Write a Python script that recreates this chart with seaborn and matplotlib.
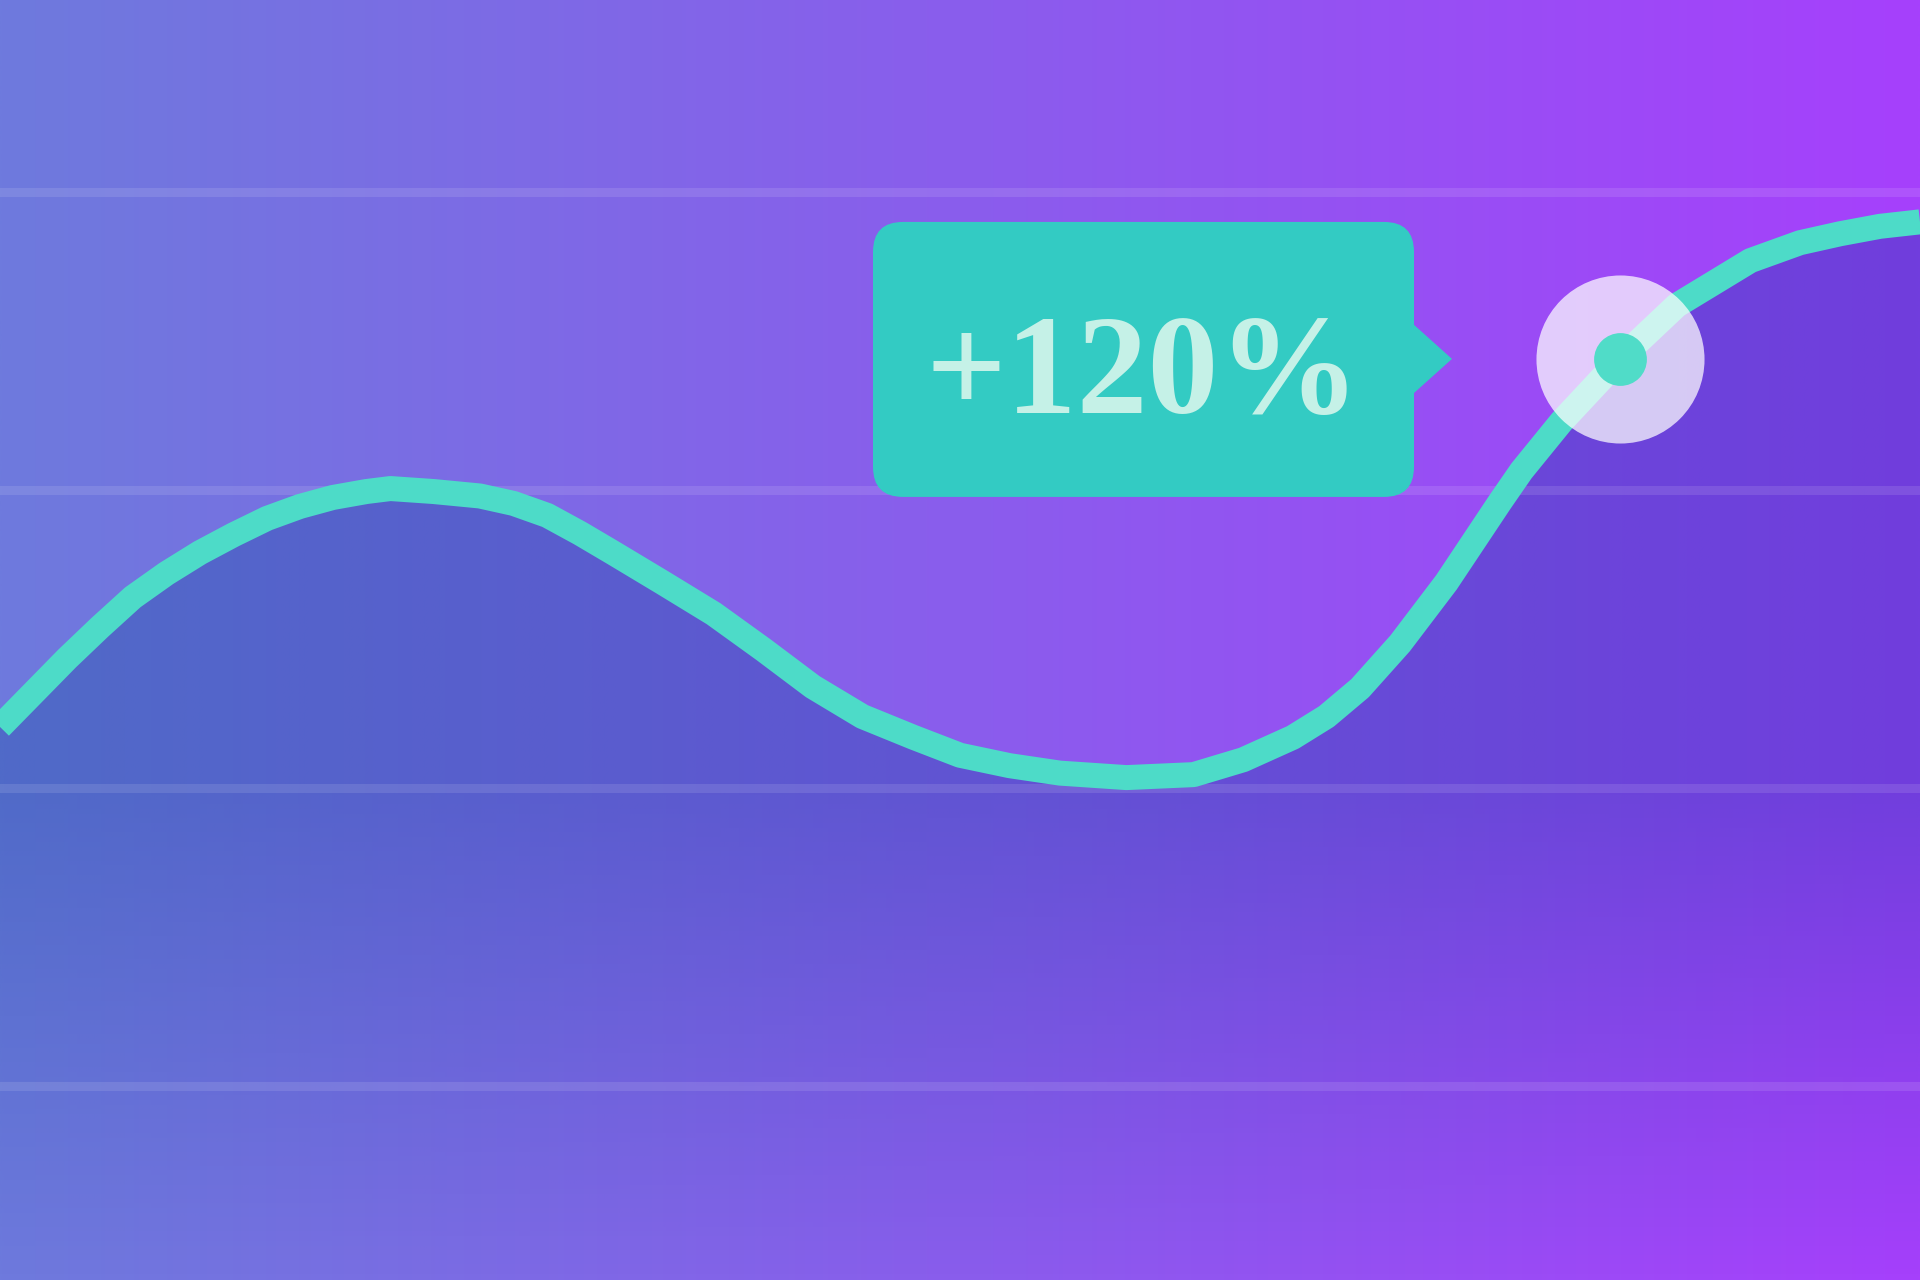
import numpy as np
import pandas as pd
import seaborn as sns
import matplotlib.pyplot as plt
import matplotlib.transforms as mtransforms
from matplotlib.patches import FancyBboxPatch, Polygon

# growth curve
months = [0, 0.21, 0.42, 0.625, 0.83, 1.04, 1.25, 1.46, 1.67, 1.875, 2.08, 2.29, 2.44, 2.71,
          3.0, 3.21, 3.42, 3.625, 3.83, 4.14, 4.46, 4.77, 5.08, 5.39, 5.71, 6.0, 6.31, 6.625,
          7.04, 7.46, 7.77, 8.08, 8.29, 8.5, 8.75, 9.04, 9.375, 9.51, 9.76, 10.125, 10.48,
          10.94, 11.25, 11.5, 11.75, 12.0]
values = [44.1, 46.4, 48.7, 50.8, 52.8, 54.4, 55.8, 57.0, 58.1, 58.9, 59.5, 59.9, 60.1, 59.9,
          59.6, 59.1, 58.3, 57.1, 55.8, 53.8, 51.7, 49.3, 46.8, 44.8, 43.4, 42.2, 41.5, 41.0,
          40.7, 40.9, 41.9, 43.4, 44.8, 46.7, 49.7, 53.8, 59.2, 61.3, 64.6, 68.8, 72.4,
          75.4, 76.6, 77.2, 77.7, 78.0]
grid_values = [20, 40, 60, 80]
highlight_month = 10.125
highlight_label = "+120%"

x_range = (0, 12)
y_range = (6.98, 92.89)

line_color = "#4ddbc8"
dot_color = "#50dcc8"
tip_color = "#33cbc3"
tip_text_color = "#c5f1e7"
bg_left = np.array([110, 122, 221]) / 255
bg_right = np.array([166, 64, 252]) / 255
fill_left = np.array([37, 85, 170]) / 255
fill_right = np.array([37, 59, 178]) / 255

df = pd.DataFrame({"month": months, "value": values})

sns.set_theme(style="white")
plt.rcParams["font.family"] = ["Liberation Serif", "DejaVu Serif"]

fig = plt.figure(figsize=(19.2, 12.8), dpi=100)
ax = fig.add_axes([0, 0, 1, 1])
ax.set_xlim(*x_range)
ax.set_ylim(*y_range)

# background gradient
t = np.linspace(0, 1, 512)[None, :, None]
bg = bg_left + (bg_right - bg_left) * t
ax.imshow(np.repeat(bg, 2, axis=0), extent=(*x_range, *y_range), aspect="auto",
          zorder=0, interpolation="bilinear")

# area under the curve: flat shade then fading out towards the bottom
rows = 400
ys = np.linspace(y_range[1], y_range[0], rows)
fade_start = 40.0
alpha = np.where(ys >= fade_start, 0.41,
                 0.41 * (ys - y_range[0]) / (fade_start - y_range[0]))
cols = fill_left + (fill_right - fill_left) * np.linspace(0, 1, 256)[None, :, None]
shade = np.zeros((rows, 256, 4))
shade[:, :, :3] = cols
shade[:, :, 3] = alpha[:, None]
area = ax.fill_between(df["month"], df["value"], y_range[0], color="none", linewidth=0)
im = ax.imshow(shade, extent=(*x_range, *y_range), aspect="auto", zorder=1,
               interpolation="bilinear")
im.set_clip_path(area.get_paths()[0], transform=ax.transData)

# grid
ax.set_yticks(grid_values)
ax.set_xticks([])
ax.set_axisbelow("line")
ax.grid(axis="y", color="white", alpha=0.11, linewidth=6.5)
ax.tick_params(length=0, labelleft=False, labelbottom=False)
for s in ax.spines.values():
    s.set_visible(False)

sns.lineplot(data=df, x="month", y="value", ax=ax, color=line_color, linewidth=18,
             solid_joinstyle="round", solid_capstyle="butt", zorder=3)
ax.set_xlabel("")
ax.set_ylabel("")

# highlighted point
hl = df[df["month"] == highlight_month].iloc[0]
ax.scatter([hl["month"]], [hl["value"]], s=14640, color="white", alpha=0.72,
           linewidths=0, zorder=4)
ax.scatter([hl["month"]], [hl["value"]], s=1444, color=dot_color, linewidths=0, zorder=5)

# tooltip, placed in pixels to the left of the point
px, py = ax.transData.transform((hl["month"], hl["value"]))
ident = mtransforms.IdentityTransform()
box = FancyBboxPatch((px - 747, py - 138), 541, 275,
                     boxstyle="round,pad=0,rounding_size=30",
                     transform=ident, facecolor=tip_color, edgecolor="none", zorder=6)
ax.add_patch(box)
pointer = Polygon([[px - 207, py + 35], [px - 168, py], [px - 207, py - 35]],
                  closed=True, transform=ident, facecolor=tip_color, edgecolor="none", zorder=6)
ax.add_patch(pointer)
ax.text(px - 477, py - 54, highlight_label, transform=ident, ha="center", va="baseline",
        fontsize=102, fontweight="bold", color=tip_text_color, zorder=7)

fig.savefig("out.png", dpi=100)
